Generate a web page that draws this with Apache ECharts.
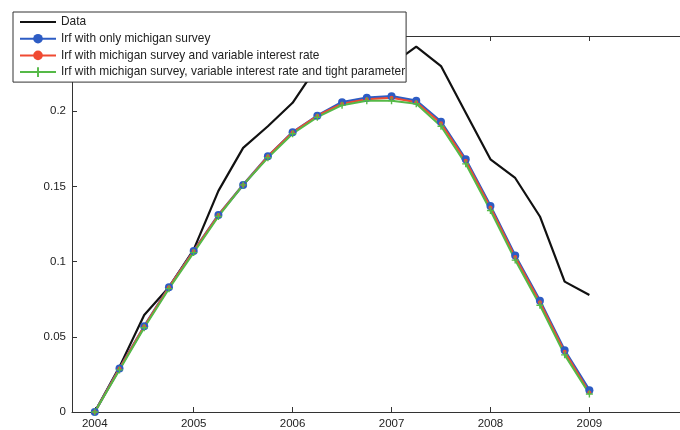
<!DOCTYPE html>
<html>
<head>
<meta charset="utf-8">
<script src="https://cdn.jsdelivr.net/npm/echarts@6/dist/echarts.min.js"></script>
<style>html,body{margin:0;padding:0;background:#fff}#c{width:680px;height:430px}</style>
</head>
<body>
<div id="c"></div>
<script>
const years = [2004,2004.25,2004.5,2004.75,2005,2005.25,2005.5,2005.75,2006,2006.25,2006.5,2006.75,2007,2007.25,2007.5,2007.75,2008,2008.25,2008.5,2008.75,2009];
const dataSeries = [0,0.030,0.0645,0.083,0.108,0.147,0.1756,0.190,0.2056,0.230,0.238,0.237,0.231,0.243,0.230,0.199,0.168,0.1556,0.130,0.0867,0.0778];
const irfMichigan = [0,0.029,0.057,0.083,0.107,0.131,0.151,0.170,0.186,0.197,0.206,0.209,0.210,0.207,0.193,0.168,0.137,0.104,0.074,0.041,0.0145];
const irfVarRate = [0,0.029,0.057,0.083,0.107,0.131,0.151,0.170,0.186,0.197,0.205,0.208,0.209,0.206,0.192,0.167,0.136,0.103,0.073,0.040,0.013];
const irfTight = [0,0.028,0.056,0.082,0.106,0.130,0.151,0.169,0.185,0.196,0.204,0.207,0.207,0.205,0.190,0.165,0.134,0.101,0.071,0.038,0.012];
const xTicks = [2004,2005,2006,2007,2008,2009];
const names = ['Data','Irf with only michigan survey','Irf with michigan survey and variable interest rate','Irf with michigan survey, variable interest rate and tight parameter'];

const pair = arr => years.map((x,i)=>[x,arr[i]]);
const font = 'Liberation Sans, Arial, sans-serif';
const chart = echarts.init(document.getElementById('c'), null, {renderer:'canvas'});
const axisLine = {show:true, lineStyle:{color:'#333', width:1}};
const plus = 'path://M4,0h2v4h4v2h-4v4h-2v-4h-4v-2h4z';
chart.setOption({
  backgroundColor:'#fff',
  animation:false,
  grid:{left:72, top:36, right:0, bottom:18, containLabel:false},
  legend:{
    orient:'vertical', left:13, top:12,
    itemWidth:36, itemHeight:12, itemGap:4.7,
    padding:[4,1,4,6],
    backgroundColor:'#fff', borderColor:'#333', borderWidth:1, borderRadius:0,
    textStyle:{fontFamily:font, fontSize:11.9, color:'#222', lineHeight:12},
    data:[{name:names[0], icon:'path://M0,0h36v2.2h-36z', itemStyle:{color:'#111'}}, names[1], names[2], names[3]],
    z:10
  },
  xAxis:[{
    type:'value', min:2003.77, max:2009.916, position:'bottom',
    axisLine:axisLine,
    axisTick:{show:true, inside:true, length:5, customValues:xTicks, lineStyle:{color:'#333'}},
    axisLabel:{customValues:xTicks, fontFamily:font, fontSize:11.5, color:'#222', margin:6, formatter:v=>String(Math.round(v))},
    splitLine:{show:false}
  },{
    type:'value', min:2003.77, max:2009.916, position:'top',
    axisLine:axisLine,
    axisTick:{show:true, inside:true, length:5, customValues:xTicks, lineStyle:{color:'#333'}},
    axisLabel:{show:false},
    splitLine:{show:false}
  }],
  yAxis:{
    type:'value', min:0, max:0.25, interval:0.05,
    axisLine:axisLine,
    axisTick:{show:true, inside:true, length:5, lineStyle:{color:'#333'}},
    axisLabel:{fontFamily:font, fontSize:11.5, color:'#222', margin:6, formatter:v=>String(+v.toFixed(2))},
    splitLine:{show:false}
  },
  series:[
    {name:names[0], type:'line', data:pair(dataSeries), symbol:'none', lineStyle:{color:'#111', width:2.2}, itemStyle:{color:'#111'}},
    {name:names[1], type:'line', data:pair(irfMichigan), symbol:'circle', symbolSize:8, lineStyle:{color:'#2d5cc4', width:2.5}, itemStyle:{color:'#2d5cc4'}},
    {name:names[2], type:'line', data:pair(irfVarRate), symbol:'circle', symbolSize:4, lineStyle:{color:'#f04a32', width:2}, itemStyle:{color:'#f04a32'}},
    {name:names[3], type:'line', data:pair(irfTight), symbol:plus, symbolSize:7, lineStyle:{color:'#55b947', width:2}, itemStyle:{color:'#55b947'}}
  ]
});
</script>
</body>
</html>
